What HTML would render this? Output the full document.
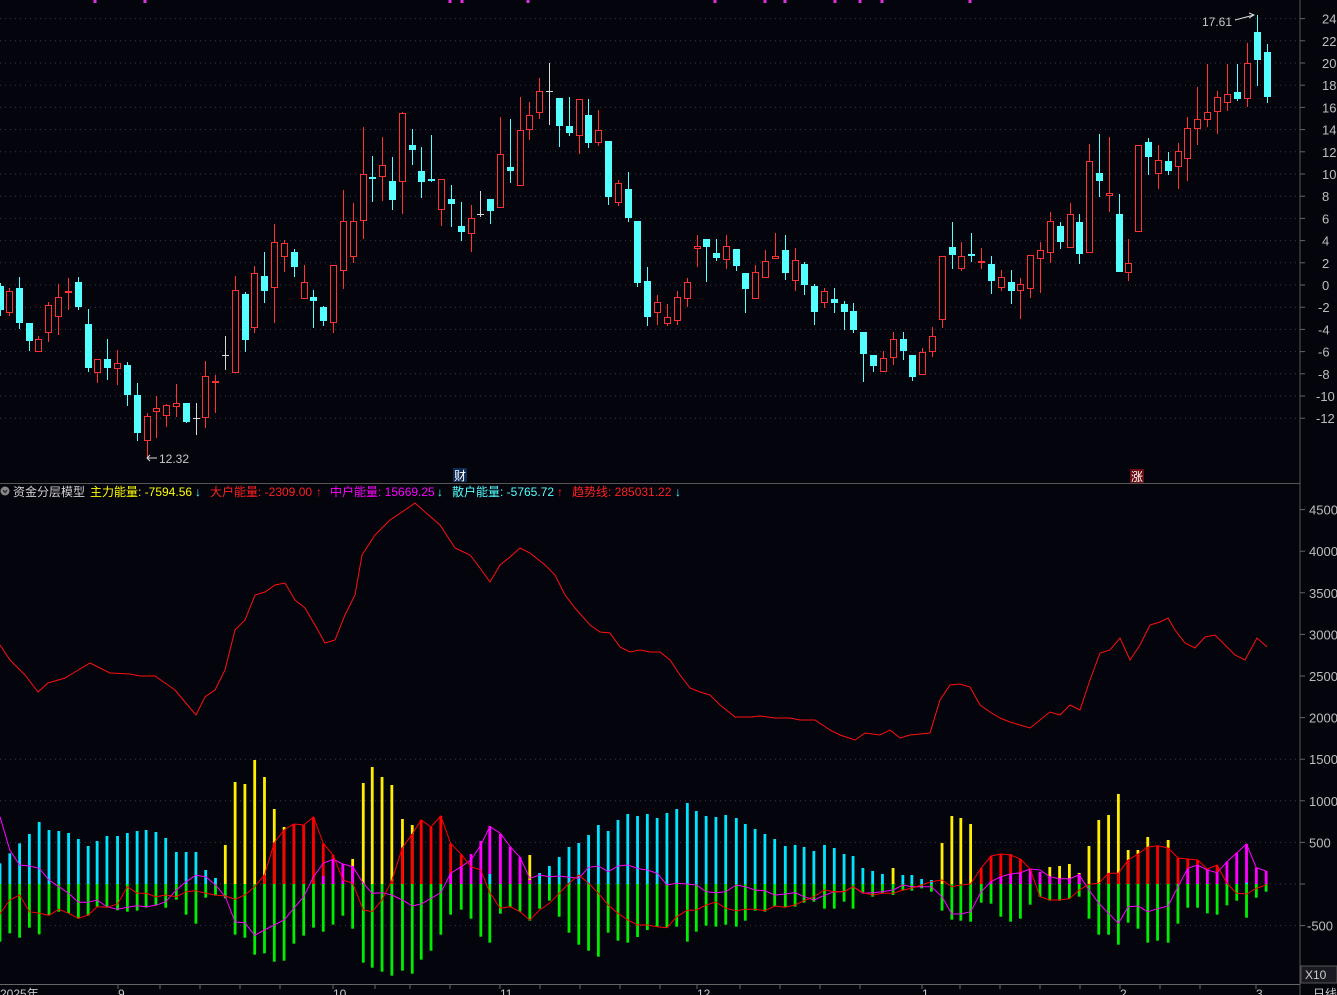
<!DOCTYPE html>
<html><head><meta charset="utf-8"><style>
html,body{margin:0;padding:0;background:#04040d;overflow:hidden}
svg{display:block}
text{font-family:"Liberation Sans","Noto Sans CJK SC",sans-serif}
</style></head><body>
<svg id="s" width="1337" height="995" xmlns="http://www.w3.org/2000/svg">
<rect width="1337" height="995" fill="#04040d"/>
<g id="grid"></g>
<g id="lower"></g>
<g id="candles"></g>
<line x1="1300" y1="0" x2="1300" y2="995" stroke="#555" stroke-width="1"/>
<line x1="0" y1="483.5" x2="1300" y2="483.5" stroke="#555" stroke-width="1"/>
<line x1="0" y1="984.5" x2="1300" y2="984.5" stroke="#666" stroke-width="1"/>
<g id="axis" font-size="13" fill="#bdbdbd"></g>
<g font-size="12">
<circle cx="5" cy="491" r="4.5" fill="#888"/>
<path d="M3 490 L5 492.5 L7 490" stroke="#222" fill="none" stroke-width="1.2"/>
<text x="13" y="496" fill="#d0d0d0">资金分层模型</text>
<text x="90" y="496" fill="#ffff00">主力能量: -7594.56</text>
<text x="195" y="496" fill="#54ffff">↓</text>
<text x="210" y="496" fill="#ff2020">大户能量: -2309.00</text>
<text x="316" y="496" fill="#ff2020">↑</text>
<text x="330" y="496" fill="#ff00ff">中户能量: 15669.25</text>
<text x="437" y="496" fill="#54ffff">↓</text>
<text x="452" y="496" fill="#54ffff">散户能量: -5765.72</text>
<text x="557" y="496" fill="#ff2020">↑</text>
<text x="572" y="496" fill="#ff2020">趋势线: 285031.22</text>
<text x="675" y="496" fill="#54ffff">↓</text>
</g>
<rect x="453" y="468" width="14" height="14" fill="#0d2a55"/>
<text x="454" y="480" font-size="12" fill="#fff">财</text>
<rect x="1130" y="469" width="14" height="14" fill="#6a0c10"/>
<text x="1131" y="481" font-size="12" fill="#fff">涨</text>
<text x="1202" y="26" font-size="12" fill="#c8c8c8">17.61</text>
<path d="M1235 20 L1254 15 M1249 13 L1254 15 L1249 18" stroke="#ddd" fill="none" stroke-width="1"/>
<path d="M147 458 L157 458 M150 455 L147 458 L150 461" stroke="#ddd" fill="none" stroke-width="1"/>
<text x="159" y="463" font-size="12" fill="#c8c8c8">12.32</text>
<g font-size="12" fill="#c8c8c8">
<text x="0" y="998">2025年</text><text x="118" y="998">9</text><text x="333" y="998">10</text><text x="500" y="998">11</text><text x="697" y="998">12</text><text x="922" y="998">1</text><text x="1120" y="998">2</text><text x="1256" y="998">3</text>
</g>
<rect x="1301" y="966" width="36" height="17" fill="#1a1a22" stroke="#555"/>
<text x="1305" y="979" font-size="12" fill="#ccc">X10</text>
<text x="1313" y="998" font-size="12" fill="#ccc">日线</text>
<g id="dots" fill="#e030e0"></g>
</svg>
<script>
var NS="http://www.w3.org/2000/svg";
function el(p,t,a){var e=document.createElementNS(NS,t);for(var k in a)e.setAttribute(k,a[k]);p.appendChild(e);return e;}
var g=document.getElementById('grid'),ax=document.getElementById('axis');
var pv=[24,22,20,18,16,14,12,10,8,6,4,2,0,-2,-4,-6,-8,-10,-12];
pv.forEach(function(v){var y=285-11.1*v;el(g,'line',{x1:0,x2:1300,y1:y,y2:y,stroke:'#3a3a44','stroke-dasharray':'1,4'});
el(ax,'line',{x1:1300,x2:1305,y1:y,y2:y,stroke:'#666'});var t=el(ax,'text',{x:v<=-10?1316:(v<0?1318:1322),y:y+5});t.textContent=v;});
for(var v=4500;v>=-500;v-=500){var y=884-0.0832*v;if(v<=1500)el(g,'line',{x1:0,x2:1300,y1:y,y2:y,stroke:'#3a3a44','stroke-dasharray':'1,4'});
el(ax,'line',{x1:1300,x2:1305,y1:y,y2:y,stroke:'#666'});if(v!=0){var t=el(ax,'text',{x:v<0?1307:1309,y:y+5});t.textContent=v;}}
[118,160,200,240,280,333,375,410,450,500,540,580,620,660,697,740,780,820,860,922,960,1000,1040,1080,1120,1160,1200,1256].forEach(function(x){el(ax,'line',{x1:x,x2:x,y1:984,y2:989,stroke:'#666'});});
[95,145,450,462,528,715,765,785,835,860,882,970].forEach(function(x){el(document.getElementById('dots'),'rect',{x:x-1.5,y:0,width:3,height:3});});
var C="0,286,310,283,316,c|9,291,313,288,316,r|19,288,323,277,329,c|29,323,341,323,351,c|38,339,352,336,352,r|48,305,333,302,342,r|58,297,317,284,335,r|68,291,293,278,310,r|78,282,307,277,310,c|88,324,368,309,372,c|97,359,373,359,383,r|107,359,368,339,380,c|117,363,369,350,385,r|127,365,395,362,406,c|137,395,433,383,441,c|147,416,441,413,457,r|156,408,412,396,438,r|166,405,416,404,427,r|176,403,407,384,417,r|186,403,422,403,423,c|196,418,418,403,435,g|205,376,418,361,428,r|215,381,383,375,413,r|225,355,355,336,370,g|235,290,373,276,373,r|245,294,340,292,352,c|254,273,328,266,333,r|264,276,291,252,303,c|274,242,288,224,323,r|284,243,257,240,272,r|294,252,267,249,277,c|304,282,299,265,299,r|313,297,301,290,328,c|323,307,321,306,326,c|333,265,323,265,333,r|343,221,271,190,289,r|353,221,257,203,263,r|363,174,221,127,239,r|372,177,179,156,202,c|382,165,177,137,201,r|392,181,200,157,210,c|402,113,182,112,214,r|412,145,150,129,165,c|421,171,182,147,198,c|431,179,181,135,182,c|441,179,210,179,226,r|451,199,204,185,227,c|461,226,232,202,241,c|471,218,234,205,252,r|480,214,214,191,217,g|490,199,211,199,224,c|500,154,208,117,208,r|510,167,171,119,183,c|520,130,186,97,186,r|529,115,130,102,140,r|539,91,113,78,119,r|549,91,91,63,125,g|559,98,126,98,147,c|569,126,133,97,136,c|579,99,136,99,154,r|588,115,143,99,148,c|598,130,143,110,146,r|608,141,197,141,205,c|618,183,203,180,206,r|628,189,218,172,222,c|637,221,283,221,287,c|647,281,317,267,326,c|657,302,313,295,325,r|667,317,324,304,326,r|677,297,321,291,325,r|687,282,299,278,307,r|697,246,249,235,267,r|706,239,247,239,282,c|716,253,258,239,261,c|726,246,260,235,269,r|736,249,266,249,271,c|745,273,289,273,313,c|755,272,299,265,299,r|765,261,278,250,278,r|775,256,259,233,259,r|785,250,273,235,280,c|795,260,281,248,291,r|804,264,285,262,295,c|814,286,312,284,325,c|824,291,303,288,308,r|834,299,303,288,313,c|844,304,312,301,330,c|853,311,330,303,333,c|863,332,354,332,382,c|873,355,366,355,372,c|883,358,372,351,372,r|893,339,358,332,365,r|903,339,351,332,360,c|912,355,377,355,381,c|922,352,375,348,375,r|932,336,352,327,357,r|942,256,320,256,328,r|952,247,255,222,269,c|961,256,269,242,271,r|971,254,256,233,262,c|981,261,263,248,269,r|991,264,281,256,294,c|1001,277,288,270,291,r|1011,282,291,270,304,c|1020,284,291,278,319,r|1030,255,289,255,298,r|1040,250,259,242,293,r|1050,221,253,212,263,r|1060,226,242,222,249,c|1070,214,248,203,248,r|1079,222,254,214,264,c|1089,161,253,144,253,r|1099,173,181,134,197,c|1109,193,196,137,212,r|1119,214,272,194,272,c|1128,263,273,239,281,r|1138,145,232,145,232,r|1148,142,157,138,175,c|1158,160,174,145,189,r|1168,161,171,152,175,c|1178,151,167,143,189,r|1187,128,159,117,181,r|1197,119,129,87,145,r|1207,112,120,64,127,r|1217,97,112,91,134,r|1227,94,103,64,111,r|1237,92,99,64,101,c|1247,63,99,43,107,r|1257,32,60,15,86,c|1267,52,97,44,103,c";
var cg=document.getElementById('candles');
C.split('|').forEach(function(s){var a=s.split(',');var x=+a[0]+0.5,t=+a[1],b=+a[2],h=+a[3],l=+a[4],k=a[5];
var col=k=='r'?'#ff3232':(k=='c'?'#54ffff':'#d8d8d8');
el(cg,'line',{x1:x,x2:x,y1:h,y2:l,stroke:col,'stroke-width':1});
if(k=='g'){el(cg,'line',{x1:x-3.5,x2:x+3.5,y1:t+0.5,y2:t+0.5,stroke:col});}
else if(k=='r'){el(cg,'rect',{x:x-3,y:t+0.5,width:6,height:Math.max(1,b-t-1),fill:'#04040d',stroke:col,'stroke-width':1});}
else{el(cg,'rect',{x:x-3.5,y:t,width:7,height:Math.max(1.5,b-t),fill:col});}
});
var lg=document.getElementById('lower');
var SX=2.45;
var COL={c:'#00e5ff',y:'#ffee00',r:'#ff0000',m:'#ff00ff'};
function bars(str,off){str.split('|').forEach(function(s){var a=s.split(',');var x=off+(+a[0])/SX,top=750+(+a[1])/3,z=884,bot=750+(+a[5])/3;
el(lg,'rect',{x:x-1.4,y:z,width:2.8,height:bot-z,fill:'#00ee00'});
el(lg,'rect',{x:x-1.4,y:top,width:2.8,height:z-top,fill:COL[a[2]]});
if(a[3]){var m=750+(+a[3])/3;el(lg,'rect',{x:x-1.4,y:m,width:2.8,height:z-m,fill:COL[a[4]]});}
});}
bars("0,340,c,,,575|24,310,c,,,550|48,280,c,,,563|72,252,c,,,533|96,216,c,,,553|120,240,c,,,496|144,243,c,,,485|168,249,c,,,490|192,267,c,,,506|216,288,c,,,497|238,273,c,,,470|262,258,c,,,473|288,258,c,,,481|312,249,c,,,485|336,243,c,,,482|358,240,c,,,473|382,246,c,,,466|406,264,c,,,473|432,306,c,,,449|456,306,c,,,494|480,306,c,,,521|504,360,c,,,443|528,384,c,,,437|552,285,y,,,445|576,96,y,,,554|600,102,y,,,563|624,30,y,,,614|648,81,y,375,r,610|672,177,y,278,r,635|696,231,y,240,r,632|720,222,r,,,581|744,225,r,,,557|768,201,r,,,533|792,280,r,378,m,545|816,315,r,330,m,524|840,342,m,,,497|864,327,y,348,m,536|890,99,y,,,638|912,51,y,,,653|936,81,y,,,665|960,105,y,392,r,677|986,207,y,293,r,662|1010,225,y,252,r,671|1032,210,r,,,629|1056,231,r,,,602|1080,198,r,,,554|1104,280,r,370,m,494|1130,313,r,350,m,479|1154,312,m,,,506|1178,273,m,,,560|1200,228,m,372,c,578|1226,252,m,,,491|1250,290,m,,,472|1274,321,m,,,485|1298,315,y,390,m,512|1322,369,c,,,476|1346,348,c,,,452|1370,321,c,,,500|1394,291,c,,,548|1418,279,c,,,584|1442,255,c,,,602|1466,225,c,,,620|1490,243,c,,,548|1514,210,c,,,572|1538,192,c,,,578|1562,198,c,,,561",0);
bars("18,192,c,,,540|42,204,c,,,530|66,189,c,,,533|90,177,c,,,530|116,159,c,,,575|138,183,c,,,545|162,198,c,,,527|186,201,c,,,530|210,195,c,,,524|236,204,c,,,530|258,222,c,,,512|282,237,c,,,482|306,252,c,,,485|330,267,c,,,470|356,288,c,,,472|380,285,c,,,470|402,291,c,,,458|426,303,c,,,455|452,285,c,,,476|476,294,c,,,476|500,312,c,,,455|522,318,c,,,476|546,354,c,,,430|570,363,c,,,440|594,372,c,,,430|620,354,y,,,435|644,375,c,,,422|666,375,c,,,422|690,387,c,,,415|714,390,c,,,425|740,279,y,,,482|764,198,y,,,509|786,204,y,,,512|810,222,y,,,515|836,354,r,,,458|860,318,r,395,m,461|884,312,r,380,m,500|908,312,r,372,m,515|932,327,r,368,m,506|956,357,m,,,464|980,366,m,,,440|1004,351,y,380,m,452|1028,348,y,386,m,452|1052,342,y,386,m,446|1076,369,y,372,m,440|1100,288,y,,,506|1124,210,y,,,554|1148,195,y,370,r,554|1172,132,y,370,r,584|1196,300,y,330,r,518|1220,300,y,312,r,536|1244,261,y,291,r,578|1268,287,r,,,572|1294,270,y,294,r,578|1318,324,r,,,521|1342,327,r,357,m,473|1366,330,r,345,m,473|1390,357,m,,,490|1414,345,r,368,m,494|1438,335,m,,,466|1462,309,m,,,452|1486,282,m,398,c,503|1510,353,m,,,443|1534,363,m,,,425",640);
function pts(str,off){return str.split(' ').map(function(p){var a=p.split(',');return (off+(+a[0])/SX).toFixed(1)+','+(750+(+a[1])/3).toFixed(1);}).join(' ');}
function line2(a,b,col){el(lg,'polyline',{points:pts(a,0)+' '+pts(b,640),fill:'none',stroke:col,'stroke-width':1});}
line2("0,200 24,300 48,345 72,348 96,355 120,390 144,410 168,430 192,457 216,457 238,450 262,470 288,478 312,472 336,467 358,470 382,466 406,455 432,420 456,395 480,376 504,380 528,405 552,440 576,516 600,518 624,556 648,540 672,525 696,510 720,475 744,440 768,380 792,340 816,328 840,342 864,350 890,400 912,430 936,428 960,435 986,450 1010,468 1032,462 1056,445 1080,428 1104,370 1130,350 1154,330 1178,285 1200,230 1226,250 1250,290 1274,322 1298,385 1322,375 1346,380 1370,378 1394,382 1418,385 1442,352 1466,348 1490,365 1514,348 1538,345 1562,355",
"0,357 18,360 42,370 66,405 90,400 116,402 138,405 162,425 186,428 210,425 236,405 258,410 282,420 306,422 330,435 356,432 380,428 402,440 426,450 452,436 476,425 500,425 522,410 546,430 570,428 594,425 620,420 644,405 666,410 690,410 714,410 740,440 764,492 786,492 810,485 836,425 860,395 884,380 908,372 932,368 956,357 980,360 1004,380 1028,386 1052,386 1076,375 1100,420 1124,460 1148,490 1172,520 1196,470 1220,468 1244,485 1268,476 1294,468 1318,410 1342,355 1366,345 1390,360 1414,368 1438,335 1462,309 1486,282 1510,353 1534,363",'#ff00ff');
line2("0,492 24,450 48,435 72,485 96,490 120,496 144,478 168,490 192,505 216,495 238,470 262,472 288,462 312,410 336,430 358,430 382,440 406,435 432,440 456,425 480,422 504,430 528,435 552,438 576,448 600,435 624,410 648,375 672,278 696,240 720,222 744,225 768,201 792,280 816,315 840,390 864,400 890,480 912,485 936,450 960,392 986,293 1010,252 1032,210 1056,231 1080,198 1104,280 1130,313 1154,350 1178,360 1200,428 1226,475 1250,470 1274,485 1298,510 1322,480 1346,460 1370,430 1394,400 1418,375 1442,400 1466,430 1490,465 1514,490 1538,510 1562,525",
"0,525 18,525 42,530 66,533 90,500 116,481 138,480 162,465 186,456 210,475 236,482 258,478 282,478 306,482 330,468 356,472 380,465 402,452 426,440 452,420 476,425 500,425 522,410 546,428 570,435 594,430 620,430 644,420 666,415 690,405 714,395 740,390 764,410 786,405 810,402 836,354 860,318 884,312 908,315 932,327 956,357 980,440 1004,450 1028,450 1052,446 1076,420 1100,403 1124,400 1148,370 1172,370 1196,330 1220,312 1244,291 1268,287 1294,294 1318,324 1342,327 1366,330 1390,357 1414,345 1438,400 1462,430 1486,432 1510,415 1534,405",'#ff0000');
el(lg,'polyline',{points:"0,645 10,660 25,675 38,692 48,683 65,678 75,672 90,663 100,668 110,673 130,674 140,676 155,676 165,683 175,690 185,702 196,715 205,697 215,690 225,670 235,630 245,620 255,595 265,592 275,585 285,583 295,600 305,608 315,625 325,643 335,640 345,615 355,595 362,555 375,535 390,520 405,510 415,503 425,512 440,525 455,548 470,555 480,568 490,582 500,565 510,557 520,548 530,553 545,565 555,575 565,595 575,608 590,625 600,632 610,633 620,647 630,652 640,650 650,652 660,652 670,660 680,675 690,688 700,692 710,695 720,705 735,717 750,717 760,716 775,718 790,718 800,720 815,720 830,730 840,735 855,740 865,733 880,735 890,730 900,738 910,735 930,733 940,700 950,685 960,684 970,687 980,705 990,712 1000,718 1010,722 1020,725 1030,728 1040,720 1050,712 1060,715 1070,705 1080,710 1090,680 1100,653 1110,650 1120,638 1130,660 1140,645 1150,625 1160,622 1168,618 1175,630 1185,643 1195,648 1205,637 1215,635 1225,645 1235,655 1245,660 1257,638 1267,647",fill:'none',stroke:'#ff1010','stroke-width':1});
</script>
</body></html>
